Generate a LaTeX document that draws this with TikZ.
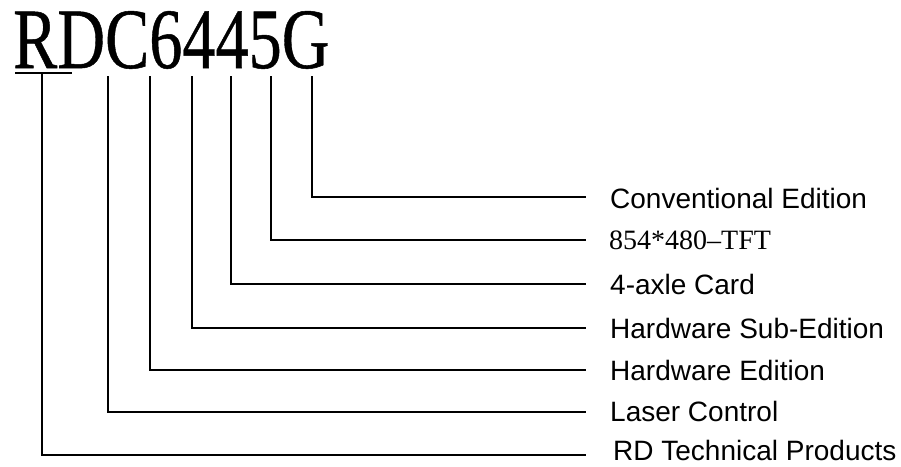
\documentclass[tikz,border=0pt]{standalone}
\usepackage{fontspec}
\setmainfont{Liberation Sans}
\newfontfamily\serifttl{Liberation Serif}
\newfontfamily\serifbig[FakeBold=0.6]{Liberation Serif}
\begin{document}
\begin{tikzpicture}[x=1pt,y=-1pt,
  lbl/.style={anchor=base west,inner sep=0pt,font=\fontsize{28}{28}\selectfont},
  conn/.style={line width=1.8pt}]
\useasboundingbox (0,0) rectangle (901,466);
\node[anchor=base west,inner sep=0pt,xscale=0.77,font=\serifbig\fontsize{86}{86}\selectfont] (title) at (13,68) {RDC6445G};
\coordinate (uL) at (15,73);
\coordinate (uR) at (72,73);
\draw[conn] (uL) -- (uR);
\coordinate (tR) at (42,73);
\coordinate (tC) at (108,76);
\coordinate (t6) at (150,76);
\coordinate (t4a) at (192,76);
\coordinate (t4b) at (231,76);
\coordinate (t5) at (271,76);
\coordinate (tG) at (312,76);
\coordinate (eG) at (586,197);
\coordinate (e5) at (586,240);
\coordinate (e4b) at (586,284);
\coordinate (e4a) at (586,328);
\coordinate (e6) at (586,370);
\coordinate (eC) at (586,412);
\coordinate (eR) at (586,455);
\node[lbl] (lG) at (610,208) {Conventional Edition};
\node[lbl,font=\serifttl\fontsize{28}{28}\selectfont] (l5) at (609,249) {854*480–TFT};
\node[lbl] (l4b) at (610,294) {4-axle Card};
\node[lbl] (l4a) at (610,338) {Hardware Sub-Edition};
\node[lbl] (l6) at (610,380) {Hardware Edition};
\node[lbl] (lC) at (610,421) {Laser Control};
\node[lbl] (lR) at (613,460) {RD Technical Products};
\draw[conn] (tG) |- (eG);
\draw[conn] (t5) |- (e5);
\draw[conn] (t4b) |- (e4b);
\draw[conn] (t4a) |- (e4a);
\draw[conn] (t6) |- (e6);
\draw[conn] (tC) |- (eC);
\draw[conn] (tR) |- (eR);
\end{tikzpicture}
\end{document}
